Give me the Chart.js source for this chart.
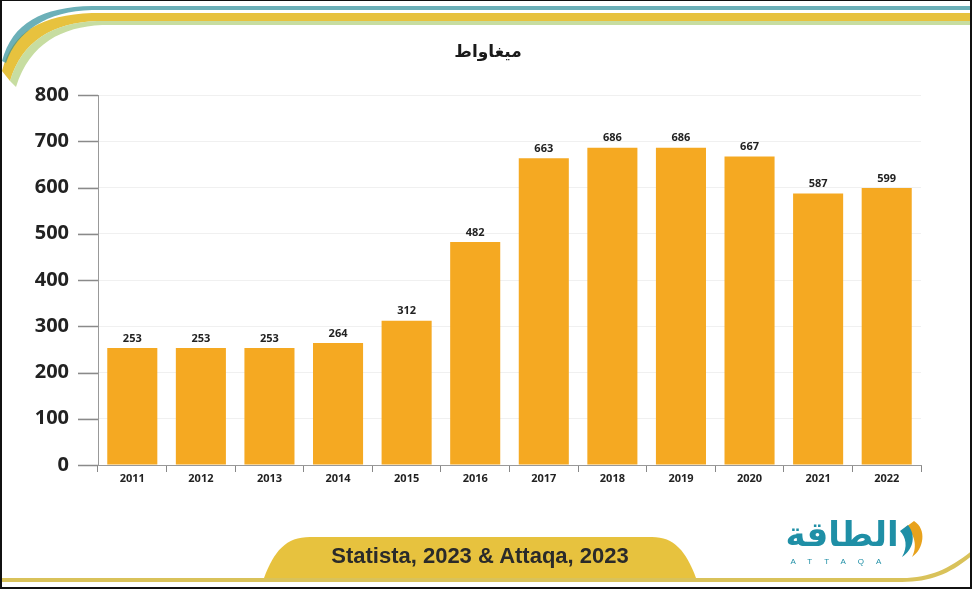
<!DOCTYPE html>
<html>
<head>
<meta charset="utf-8">
<script src="https://cdn.jsdelivr.net/npm/chart.js@4.4.0/dist/chart.umd.min.js"></script>
<style>
  html, body { margin: 0; padding: 0; background: #fff; }
  #frame { position: relative; width: 972px; height: 589px; overflow: hidden; box-sizing: border-box; border: 2px solid #111; border-top-width: 1px; }
  #deco { position: absolute; left: 0; top: 0; }
  #chartBox { position: absolute; left: -2px; top: -1px; width: 972px; height: 589px; }
  #title { position: absolute; left: 0; width: 972px; top: 38px; text-align: center; font-family: "Noto Sans", "DejaVu Sans", sans-serif; font-weight: bold; font-size: 17px; color: #1a1a1a; }
  #source { position: absolute; left: 278px; top: 542px; width: 400px; text-align: center; font-family: "Liberation Sans", Arial, sans-serif; font-weight: bold; font-size: 22px; color: #2a2a2a; }
  #logo { position: absolute; left: 770px; top: 512px; width: 140px; text-align: center; font-family: "Noto Sans", "DejaVu Sans", sans-serif; font-weight: bold; font-size: 34px; color: #1f8fa6; line-height: 40px; }
  #logoSub { position: absolute; left: 770px; top: 556px; width: 140px; text-align: center; font-family: "Liberation Sans", sans-serif; font-size: 8px; letter-spacing: 12px; color: #1f8fa6; }
</style>
</head>
<body>
<div id="frame">
  <svg id="deco" width="972" height="589">
    <!-- dải trang trí phía trên -->
    <path d="M0 70 C 10 30, 40 14, 90 12 L 972 12 L 972 20 L 95 20 C 50 22, 20 40, 8 80 Z" fill="#e7c23e"/>
    <path d="M0 60 C 10 22, 40 6, 90 5 L 972 5 L 972 9 L 90 9 C 45 10, 15 30, 4 62 Z" fill="#2d8f9a" opacity="0.7"/>
    <path d="M8 80 C 20 40, 50 22, 95 20 L 972 20 L 972 24 L 100 24 C 60 26, 28 42, 14 86 Z" fill="#b9d58a" opacity="0.8"/>
    <!-- thẻ nguồn phía dưới -->
    <path d="M262 577 C 272 550, 284 536, 308 536 L 650 536 C 672 536, 684 550, 694 577 Z" fill="#e7c23e"/>
    <path d="M0 577 L 900 577 C 930 577, 950 566, 972 548 L 972 553 C 950 572, 930 581, 900 581 L 0 581 Z" fill="#d9c25a"/>
    <!-- logo -->
    <path d="M912 520 C 925 528, 922 548, 910 556 C 916 545, 912 532, 904 526 Z" fill="#e8a21c"/>
    <path d="M906 524 C 914 534, 912 548, 900 556 C 906 546, 904 536, 898 530 Z" fill="#1f8fa6"/>
  </svg>
  <div id="chartBox"><canvas id="myChart"></canvas></div>
  <div id="title">ميغاواط</div>
  <div id="source">Statista, 2023 &amp; Attaqa, 2023</div>
  <div id="logo">الطاقة</div>
  <div id="logoSub">ATTAQA</div>
</div>
<script>
var years = ['2011', '2012', '2013', '2014', '2015', '2016', '2017', '2018', '2019', '2020', '2021', '2022'];
var megawatts = [253, 253, 253, 264, 312, 482, 663, 686, 686, 667, 587, 599];
var yTicks = [0, 100, 200, 300, 400, 500, 600, 700, 800];

// nhãn giá trị trên đầu mỗi cột + vạch chia trục y
var valueLabels = {
    id: 'valueLabels',
    afterDatasetsDraw: function (chart) {
        var ctx = chart.ctx;
        var meta = chart.getDatasetMeta(0);
        var yScale = chart.scales.y;
        ctx.save();
        ctx.strokeStyle = '#8a8a8a';
        ctx.lineWidth = 1.5;
        yTicks.forEach(function (v) {
            var py = Math.round(yScale.getPixelForValue(v)) + 0.5;
            ctx.beginPath();
            ctx.moveTo(yScale.right - 20, py);
            ctx.lineTo(yScale.right, py);
            ctx.stroke();
        });
        ctx.font = 'bold 11px "Open Sans", sans-serif';
        ctx.fillStyle = '#222';
        ctx.textAlign = 'center';
        ctx.textBaseline = 'bottom';
        meta.data.forEach(function (bar, i) {
            ctx.fillText(megawatts[i], bar.x, bar.y - 4);
        });
        ctx.restore();
    }
};

var ctx = document.getElementById('myChart').getContext('2d');
new Chart(ctx, {
    type: 'bar',
    data: {
        labels: years,
        datasets: [{
            data: megawatts,
            backgroundColor: '#f5a922',
            borderWidth: 0,
            barPercentage: 0.73,
            categoryPercentage: 1
        }]
    },
    options: {
        responsive: true,
        maintainAspectRatio: false,
        animation: false,
        layout: { padding: { top: 95, right: 51, bottom: 0, left: 0 } },
        plugins: {
            legend: { display: false },
            tooltip: { enabled: false }
        },
        scales: {
            x: {
                grid: { display: true, drawOnChartArea: false, tickLength: 7, tickColor: '#888', tickWidth: 1, offset: true },
                border: { color: '#999', width: 1 },
                ticks: { color: '#222', font: { family: 'Open Sans', weight: 'bold', size: 11 }, padding: 0, maxRotation: 0 },
                afterFit: function (scale) { scale.height = 589 - 465; }
            },
            y: {
                min: 0,
                max: 800,
                afterBuildTicks: function (scale) {
                    scale.ticks = yTicks.map(function (v) { return { value: v }; });
                },
                grid: { color: '#f0f0f0', tickLength: 20 },
                border: { color: '#999', width: 1 },
                ticks: { color: '#222', font: { family: 'Open Sans', weight: 'bold', size: 20 }, padding: 9 },
                afterFit: function (scale) { scale.width = 98; }
            }
        }
    },
    plugins: [valueLabels]
});
</script>
</body>
</html>
